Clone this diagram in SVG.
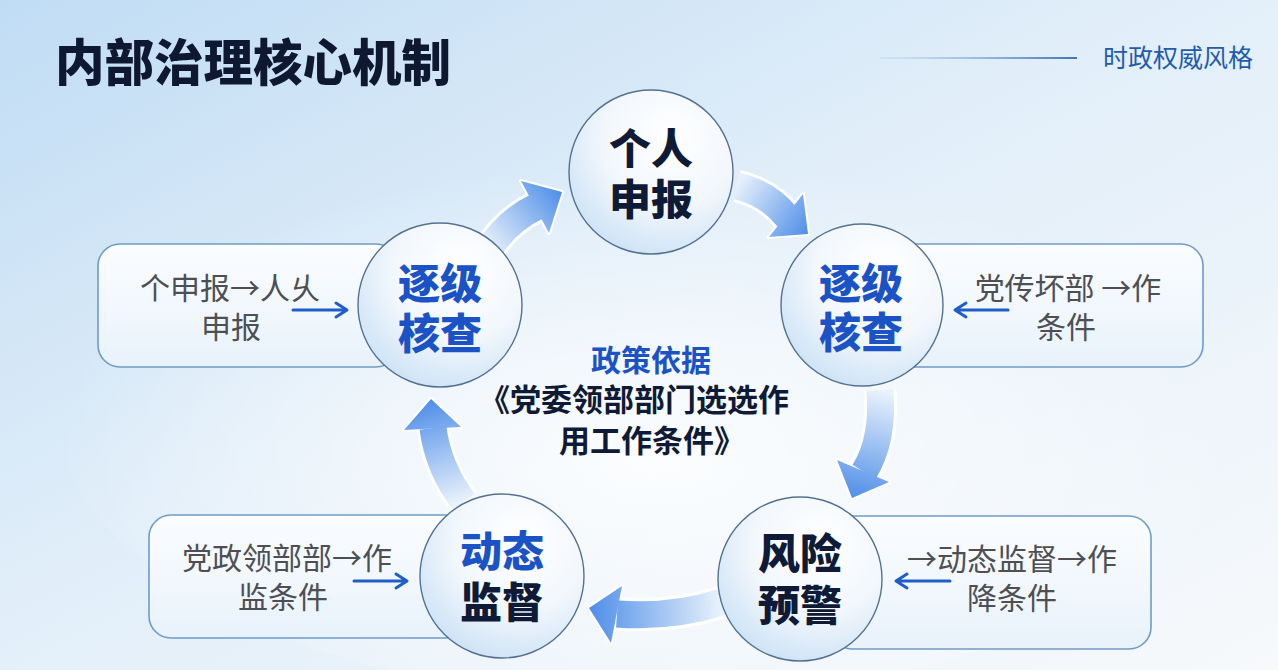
<svg xmlns="http://www.w3.org/2000/svg" width="1278" height="670" viewBox="0 0 1278 670">
<defs>
<linearGradient id="bg" x1="0" y1="0" x2="1" y2="1">
<stop offset="0" stop-color="#c0dcf4"/>
<stop offset="0.45" stop-color="#e1eef9"/>
<stop offset="1" stop-color="#f7f9fb"/>
</linearGradient>
<radialGradient id="glow" cx="0.5" cy="0.6" r="0.5">
<stop offset="0" stop-color="#ffffff" stop-opacity="0.85"/>
<stop offset="1" stop-color="#ffffff" stop-opacity="0"/>
</radialGradient>
<radialGradient id="circ" cx="0.62" cy="0.3" r="0.75">
<stop offset="0" stop-color="#ffffff"/>
<stop offset="0.55" stop-color="#f2f7fc"/>
<stop offset="1" stop-color="#cde2f6"/>
</radialGradient>
<linearGradient id="box" x1="0" y1="0" x2="0" y2="1">
<stop offset="0" stop-color="#fbfdff"/>
<stop offset="1" stop-color="#e8f2fb"/>
</linearGradient>
<linearGradient id="hline" gradientUnits="userSpaceOnUse" x1="880" y1="0" x2="1077" y2="0">
<stop offset="0" stop-color="#8fb4dc" stop-opacity="0.15"/>
<stop offset="1" stop-color="#3f74b8"/>
</linearGradient>
<linearGradient id="a1" gradientUnits="userSpaceOnUse" x1="490" y1="248" x2="562" y2="192"><stop offset="0" stop-color="#e6f0fb"/><stop offset="1" stop-color="#4f8ee8"/></linearGradient>
<linearGradient id="a2" gradientUnits="userSpaceOnUse" x1="737" y1="186" x2="808" y2="234"><stop offset="0" stop-color="#e6f0fb"/><stop offset="1" stop-color="#4f8ee8"/></linearGradient>
<linearGradient id="a3" gradientUnits="userSpaceOnUse" x1="880" y1="390" x2="852" y2="498"><stop offset="0" stop-color="#eaf3fc"/><stop offset="1" stop-color="#4f8ee8"/></linearGradient>
<linearGradient id="a4" gradientUnits="userSpaceOnUse" x1="722" y1="602" x2="589" y2="608"><stop offset="0" stop-color="#eaf3fc"/><stop offset="1" stop-color="#4f8ee8"/></linearGradient>
<linearGradient id="a5" gradientUnits="userSpaceOnUse" x1="464" y1="502" x2="431" y2="399"><stop offset="0" stop-color="#eaf3fc"/><stop offset="1" stop-color="#4f8ee8"/></linearGradient>
</defs>
<style>
.cjk{font-family:"Noto Sans CJK SC","Noto Sans",sans-serif}
.title{font-size:49.5px;font-weight:900;fill:#0e1830}
.tag{font-size:25px;font-weight:400;fill:#1f5cae}
.circ{fill:url(#circ);stroke:#54728f;stroke-width:1.4}
.box{fill:url(#box);stroke:#6f9bc6;stroke-width:1.6}
.cn{font-size:42px;font-weight:900;text-anchor:middle}
.dark{fill:#0f1b36}
.blue{fill:#1b53c6}
.bt{font-size:30px;font-weight:400;fill:#4d4f55;text-anchor:middle}
.ct{font-size:31px;font-weight:700;text-anchor:middle}
.halo{fill:none;stroke:#ffffff;stroke-width:33;stroke-opacity:0.9}
.haloh{stroke:#ffffff;stroke-width:4;stroke-linejoin:round}
.sh{fill:none;stroke-width:27}
.sa{fill:none;stroke:#1f5ec8;stroke-width:3;stroke-linecap:round;stroke-linejoin:round}
</style>
<rect width="1278" height="670" fill="url(#bg)"/>
<ellipse cx="650" cy="400" rx="600" ry="300" fill="url(#glow)"/>

<g id="header">
<text class="cjk title" x="55" y="81">内部治理核心机制</text>
<rect x="880" y="57" width="197" height="2" fill="url(#hline)"/>
<text class="cjk tag" x="1103" y="67">时政权威风格</text>
</g>

<g id="box-left"><rect class="box" x="98" y="244" width="300" height="123" rx="22"/>
<text class="cjk bt"><tspan x="230" y="299">个申报→人乆</tspan><tspan x="231" y="338">申报</tspan></text></g>
<g id="box-right"><rect class="box" x="880" y="244" width="323" height="123" rx="22"/>
<text class="cjk bt"><tspan x="1068" y="299">党传坏部 →作</tspan><tspan x="1066" y="338">条件</tspan></text></g>
<g id="box-bottom-left"><rect class="box" x="149" y="515" width="320" height="123" rx="22"/>
<text class="cjk bt"><tspan x="287" y="569">党政领部部→作</tspan><tspan x="283" y="608">监条件</tspan></text></g>
<g id="box-bottom-right"><rect class="box" x="830" y="516" width="321" height="133" rx="22"/>
<text class="cjk bt"><tspan x="1012" y="570">→动态监督→作</tspan><tspan x="1012" y="609">降条件</tspan></text></g>

<g id="connectors">
<path class="halo" d="M490,248 Q508,220 538,206"/>
<polygon class="haloh" fill="#fff" points="521,181 562,192 549,233"/>
<path class="sh" stroke="url(#a1)" d="M490,248 Q508,220 538,206"/>
<polygon fill="url(#a1)" points="521,181 562,192 549,233"/>

<path class="halo" d="M737,186 Q768,193 788,218"/>
<polygon class="haloh" fill="#fff" points="803,194 808,234 769,237"/>
<path class="sh" stroke="url(#a2)" d="M737,186 Q768,193 788,218"/>
<polygon fill="url(#a2)" points="803,194 808,234 769,237"/>

<path class="halo" d="M880,390 Q884,440 864,472"/>
<polygon class="haloh" fill="#fff" points="837,460 889,482 852,498"/>
<path class="sh" stroke="url(#a3)" d="M880,390 Q884,440 864,472"/>
<polygon fill="url(#a3)" points="837,460 889,482 852,498"/>

<path class="halo" d="M722,602 Q672,618 617,614"/>
<polygon class="haloh" fill="#fff" points="622,586 589,608 611,643"/>
<path class="sh" stroke="url(#a4)" d="M722,602 Q672,618 617,614"/>
<polygon fill="url(#a4)" points="622,586 589,608 611,643"/>

<path class="halo" d="M464,502 Q438,468 433,428"/>
<polygon class="haloh" fill="#fff" points="404,430 431,399 461,427"/>
<path class="sh" stroke="url(#a5)" d="M464,502 Q438,468 433,428"/>
<polygon fill="url(#a5)" points="404,430 431,399 461,427"/>

<path class="sa" d="M293,310 H346 M336,303 L347,310 L336,317"/>
<path class="sa" d="M1008,310 H956 M966,303 L955,310 L966,317"/>
<path class="sa" d="M354,581 H406 M396,574 L407,581 L396,588"/>
<path class="sa" d="M950,581 H897 M907,574 L896,581 L907,588"/>
</g>

<g id="node-top"><circle class="circ" cx="651" cy="172" r="82"/>
<text class="cjk cn dark"><tspan x="651" y="164">个人</tspan><tspan x="651" y="215">申报</tspan></text></g>
<g id="node-left"><circle class="circ" cx="440" cy="305" r="82"/>
<text class="cjk cn blue"><tspan x="440" y="299">逐级</tspan><tspan x="440" y="349">核查</tspan></text></g>
<g id="node-right"><circle class="circ" cx="862" cy="305" r="81"/>
<text class="cjk cn blue"><tspan x="861" y="299">逐级</tspan><tspan x="861" y="348">核查</tspan></text></g>
<g id="node-bottom-left"><circle class="circ" cx="502" cy="576" r="82"/>
<text class="cjk cn"><tspan class="blue" x="502" y="567">动态</tspan><tspan class="dark" x="502" y="618">监督</tspan></text></g>
<g id="node-bottom-right"><circle class="circ" cx="800" cy="579" r="82"/>
<text class="cjk cn dark"><tspan x="800" y="569">风险</tspan><tspan x="800" y="621">预警</tspan></text></g>

<g id="center-text">
<text class="cjk ct"><tspan class="blue" x="651" y="371" style="font-size:30px">政策依据</tspan><tspan class="dark" x="634" y="411">《党委领部部门选选作</tspan><tspan class="dark" x="652" y="452">用工作条件》</tspan></text>
</g>
</svg>
